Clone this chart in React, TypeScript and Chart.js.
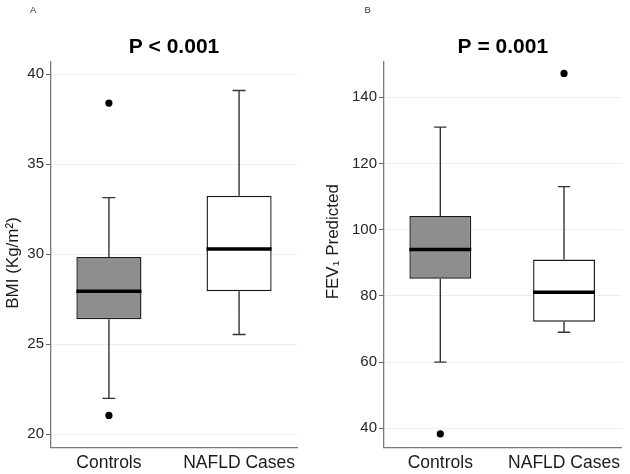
import React, { useEffect, useRef } from 'react';
import { Chart, registerables } from 'chart.js';

Chart.register(...registerables);

// ---------- data ----------
const categories = ['Controls', 'NAFLD Cases'];
const categoryPositions = [1, 2];

const bmiLowerWhisker = [22.0, 25.55];
const bmiQ1 = [26.4, 27.95];
const bmiMedian = [27.95, 30.3];
const bmiQ3 = [29.85, 33.25];
const bmiUpperWhisker = [33.15, 39.1];
const bmiOutliers = [[38.4, 21.05], []];
const bmiTicks = [20, 25, 30, 35, 40];

const fevLowerWhisker = [60, 69];
const fevQ1 = [85.2, 72.2];
const fevMedian = [94, 81.1];
const fevQ3 = [104.1, 91];
const fevUpperWhisker = [131, 113];
const fevOutliers = [[38.3], [147.2]];
const fevTicks = [40, 60, 80, 100, 120, 140];

// ---------- styling ----------
const FONT = "'Liberation Sans', Arial, Helvetica, sans-serif";
const BOX_HALF = 0.25;
const CAP_HALF = 0.05;
const boxFills = ['#8e8e8e', '#ffffff'];

type Stats = {
  lw: number[]; q1: number[]; med: number[]; q3: number[]; uw: number[]; out: number[][]; ticks: number[];
};

type Spec = {
  stats: Stats;
  yMin: number; yMax: number; xMin: number; xMax: number;
  yAxisWidth: number; rightPad: number;
  title: string; label: string; labelX: number;
  yTitle: string; yTitleX: number; yTitleY: number;
};

const overlay = {
  id: 'overlay',
  afterDraw(chart: any, _args: any, opts: any) {
    const { ctx, chartArea } = chart;
    ctx.save();
    ctx.fillStyle = '#000';
    ctx.font = `bold 21px ${FONT}`;
    ctx.textAlign = 'center';
    ctx.textBaseline = 'middle';
    ctx.fillText(opts.title, (chartArea.left + chartArea.right) / 2, 47);
    ctx.fillStyle = '#333';
    ctx.font = `9.5px ${FONT}`;
    ctx.textAlign = 'left';
    ctx.textBaseline = 'alphabetic';
    ctx.fillText(opts.label, opts.labelX, 12.5);
    ctx.translate(opts.yTitleX, opts.yTitleY);
    ctx.rotate(-Math.PI / 2);
    ctx.fillStyle = '#1a1a1a';
    ctx.font = `17px ${FONT}`;
    ctx.textAlign = 'center';
    ctx.textBaseline = 'middle';
    ctx.fillText(opts.yTitle, 0, 0);
    ctx.restore();
  },
};

function buildConfig(spec: Spec): any {
  const s = spec.stats;
  const whiskers: any[] = [];
  const medians: any[] = [];
  const outliers: any[] = [];
  categoryPositions.forEach((c, i) => {
    whiskers.push({ x: c, y: s.lw[i] }, { x: c, y: s.q1[i] }, { x: c, y: null });
    whiskers.push({ x: c, y: s.q3[i] }, { x: c, y: s.uw[i] }, { x: c, y: null });
    whiskers.push({ x: c - CAP_HALF, y: s.lw[i] }, { x: c + CAP_HALF, y: s.lw[i] }, { x: c, y: null });
    whiskers.push({ x: c - CAP_HALF, y: s.uw[i] }, { x: c + CAP_HALF, y: s.uw[i] }, { x: c, y: null });
    medians.push({ x: c - BOX_HALF, y: s.med[i] }, { x: c + BOX_HALF, y: s.med[i] }, { x: c, y: null });
    s.out[i].forEach((v) => outliers.push({ x: c, y: v }));
  });
  const boxes = categoryPositions.map((c, i) => ({ x: c, y: [s.q1[i], s.q3[i]] }));

  return {
    type: 'bar',
    data: {
      datasets: [
        {
          type: 'line',
          data: whiskers,
          borderColor: '#333333',
          borderWidth: 1.4,
          pointRadius: 0,
          spanGaps: false,
          order: 4,
        },
        {
          type: 'bar',
          data: boxes,
          backgroundColor: boxFills,
          borderColor: '#1a1a1a',
          borderWidth: 1.4,
          borderSkipped: false,
          categoryPercentage: 1,
          barPercentage: 2 * BOX_HALF,
          grouped: false,
          order: 3,
        },
        {
          type: 'line',
          data: medians,
          borderColor: '#000000',
          borderWidth: 3.5,
          pointRadius: 0,
          spanGaps: false,
          order: 2,
        },
        {
          type: 'scatter',
          data: outliers,
          backgroundColor: '#000000',
          borderWidth: 0,
          pointRadius: 3.6,
          order: 1,
        },
      ],
    },
    options: {
      responsive: false,
      animation: false,
      events: [],
      layout: { padding: { top: 61.7, right: spec.rightPad, bottom: 0, left: 0 } },
      plugins: {
        legend: { display: false },
        tooltip: { enabled: false },
        title: { display: false },
        overlay: {
          title: spec.title,
          label: spec.label,
          labelX: spec.labelX,
          yTitle: spec.yTitle,
          yTitleX: spec.yTitleX,
          yTitleY: spec.yTitleY,
        },
      },
      scales: {
        x: {
          type: 'linear',
          min: spec.xMin,
          max: spec.xMax,
          offset: false,
          afterBuildTicks: (scale: any) => {
            scale.ticks = categoryPositions.map((v) => ({ value: v }));
          },
          afterFit: (scale: any) => {
            scale.height = 26.7;
          },
          grid: { display: false, drawTicks: false, offset: false },
          border: { display: true, color: '#7a7a7a', width: 1.3 },
          ticks: {
            autoSkip: false,
            maxRotation: 0,
            padding: 5,
            color: '#1a1a1a',
            font: { family: FONT, size: 17.5 },
            callback: (v: any) => {
              const idx = categoryPositions.indexOf(Number(v));
              return idx >= 0 ? categories[idx] : '';
            },
          },
        },
        y: {
          type: 'linear',
          min: spec.yMin,
          max: spec.yMax,
          beginAtZero: false,
          afterBuildTicks: (scale: any) => {
            scale.ticks = s.ticks.map((v) => ({ value: v }));
          },
          afterFit: (scale: any) => {
            scale.width = spec.yAxisWidth;
          },
          grid: {
            color: '#ededed',
            lineWidth: 1,
            drawTicks: true,
            tickLength: 5,
            tickColor: '#666666',
          },
          border: { display: true, color: '#7a7a7a', width: 1.3 },
          ticks: {
            padding: 2,
            color: '#262626',
            font: { family: FONT, size: 15 },
          },
        },
      },
    },
    plugins: [overlay],
  };
}

const panelA: Spec = {
  stats: { lw: bmiLowerWhisker, q1: bmiQ1, med: bmiMedian, q3: bmiQ3, uw: bmiUpperWhisker, out: bmiOutliers, ticks: bmiTicks },
  yMin: 19.28, yMax: 40.7, xMin: 0.555, xMax: 2.445,
  yAxisWidth: 51, rightPad: 18,
  title: 'P < 0.001', label: 'A', labelX: 30,
  yTitle: 'BMI (Kg/m²)', yTitleX: 13.5, yTitleY: 263,
};

const panelB: Spec = {
  stats: { lw: fevLowerWhisker, q1: fevQ1, med: fevMedian, q3: fevQ3, uw: fevUpperWhisker, out: fevOutliers, ticks: fevTicks },
  yMin: 34.26, yMax: 150.75, xMin: 0.545, xMax: 2.466,
  yAxisWidth: 69, rightPad: 8.3,
  title: 'P = 0.001', label: 'B', labelX: 49.5,
  yTitle: 'FEV₁ Predicted', yTitleX: 18.3, yTitleY: 241.7,
};

function Panel({ spec }: { spec: Spec }) {
  const ref = useRef<HTMLCanvasElement | null>(null);
  useEffect(() => {
    if (!ref.current) return;
    const chart = new Chart(ref.current, buildConfig(spec));
    return () => chart.destroy();
  }, [spec]);
  return <canvas ref={ref} width={315} height={474} style={{ display: 'block', width: 315, height: 474 }} />;
}

export default function App() {
  return (
    <div
      style={{
        position: 'fixed',
        left: 0,
        top: 0,
        width: 630,
        height: 474,
        background: '#ffffff',
        display: 'flex',
        flexDirection: 'row',
      }}
    >
      <Panel spec={panelA} />
      <Panel spec={panelB} />
    </div>
  );
}
